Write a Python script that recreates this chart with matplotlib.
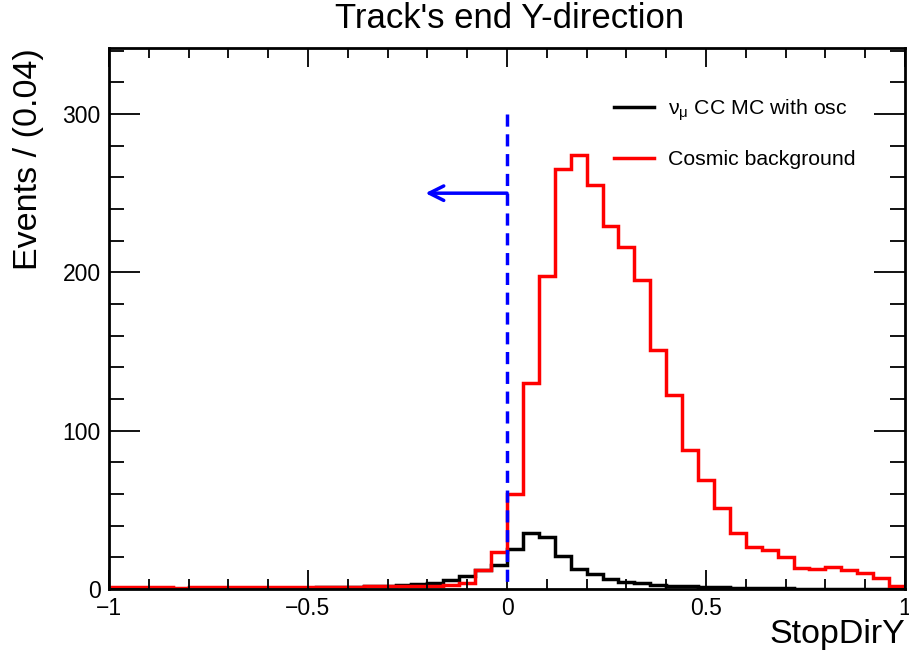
import numpy as np
import matplotlib
matplotlib.use("Agg")
import matplotlib.pyplot as plt
from matplotlib.ticker import MultipleLocator

plt.rcParams['font.family'] = ['Liberation Sans', 'DejaVu Sans']
plt.rcParams['mathtext.fontset'] = 'custom'
plt.rcParams['mathtext.rm'] = 'Liberation Sans'
plt.rcParams['mathtext.it'] = 'Liberation Sans:italic'

# 50 bins of 0.04 between -1 and 1
bin_edges = np.linspace(-1, 1, 51)

# numu CC MC with osc (black)
numu_counts = [0.2, 0.2, 0.3, 0.3, 0.3, 0.4, 0.4, 0.5, 0.5, 0.6,
               0.7, 0.8, 0.9, 1.0, 1.2, 1.4, 1.6, 2.0, 2.5, 3.2,
               4.0, 5.7, 8.2, 12.0, 15.2,
               25.0, 35.5, 32.6, 21.0, 12.4, 9.3, 6.3, 4.6, 3.6, 2.3,
               2.0, 1.6, 1.3, 1.0, 0.8, 0.6, 0.5, 0.4, 0.3, 0.3,
               0.2, 0.2, 0.2, 0.1, 0.1]

# cosmic background (red)
cosmic_counts = [1.0, 1.0, 1.0, 1.0, 0.8, 1.0, 1.0, 1.0, 1.2, 1.0,
                 1.0, 1.2, 1.0, 1.3, 1.5, 1.4, 1.6, 1.8, 2.0, 2.0,
                 2.2, 2.5, 3.6, 12.0, 23.6,
                 60.0, 130.0, 198.0, 265.0, 274.0, 255.0, 229.0, 216.0, 195.0, 151.0,
                 122.5, 88.0, 69.0, 51.0, 35.6, 26.7, 24.6, 20.2, 13.3, 12.6,
                 13.9, 12.0, 10.0, 7.0, 2.0]

cut_value = 0.0
cut_top = 300
arrow_y = 250
arrow_end = -0.205

fig = plt.figure(figsize=(9.09, 6.55), dpi=100)
ax = fig.add_axes([109/909, 1-589/655, 796/909, 541/655])

ax.stairs(numu_counts, bin_edges, color='black', lw=2.5, label=r'ν$_{\mathrm{μ}}$ CC MC with osc')
ax.stairs(cosmic_counts, bin_edges, color='red', lw=2.5, label='Cosmic background')

# cut line, drawn from the top down so a dash sits at the top end
ax.plot([cut_value, cut_value], [cut_top, 0], color='blue', lw=2.5, ls=(0, (3.5, 2.2)))
ax.annotate('', xy=(arrow_end, arrow_y), xytext=(cut_value, arrow_y),
            arrowprops=dict(arrowstyle='->', color='blue', lw=2.5, mutation_scale=26,
                            shrinkA=0, shrinkB=0))

ax.set_xlim(-1, 1)
ax.set_ylim(0, 341.7)

ax.xaxis.set_major_locator(MultipleLocator(0.5))
ax.xaxis.set_minor_locator(MultipleLocator(0.1))
ax.yaxis.set_major_locator(MultipleLocator(100))
ax.yaxis.set_minor_locator(MultipleLocator(20))
ax.tick_params(axis='both', which='both', direction='in', top=True, right=True, width=1.3,
               labelsize=16.5)
ax.tick_params(axis='x', which='major', length=14, pad=6)
ax.tick_params(axis='x', which='minor', length=7)
ax.tick_params(axis='y', which='major', length=22, pad=6)
ax.tick_params(axis='y', which='minor', length=11)
ax.xaxis.set_major_formatter(plt.FuncFormatter(lambda v, p: '0' if abs(v) < 1e-9 else ('%g' % v).replace('-', '\u2212')))
for s in ax.spines.values():
    s.set_linewidth(2)

ax.set_xlabel('StopDirY', fontsize=24.5, loc='right')
ax.xaxis.set_label_coords(1.0, -0.056)
ax.set_ylabel('Events / (0.04)', fontsize=24.5, loc='top')
ax.yaxis.set_label_coords(-0.082, 1.0)

fig.text(510/909, 1-19/655, "Track's end Y-direction", fontsize=25, ha='center', va='center')

ax.legend(loc='upper left', bbox_to_anchor=(614/909, 1-97/655), bbox_transform=fig.transFigure,
          frameon=False, fontsize=15.3, handlelength=1.9, handletextpad=0.65,
          labelspacing=1.3, borderpad=0, borderaxespad=0)

fig.savefig('out.png', dpi=100)
